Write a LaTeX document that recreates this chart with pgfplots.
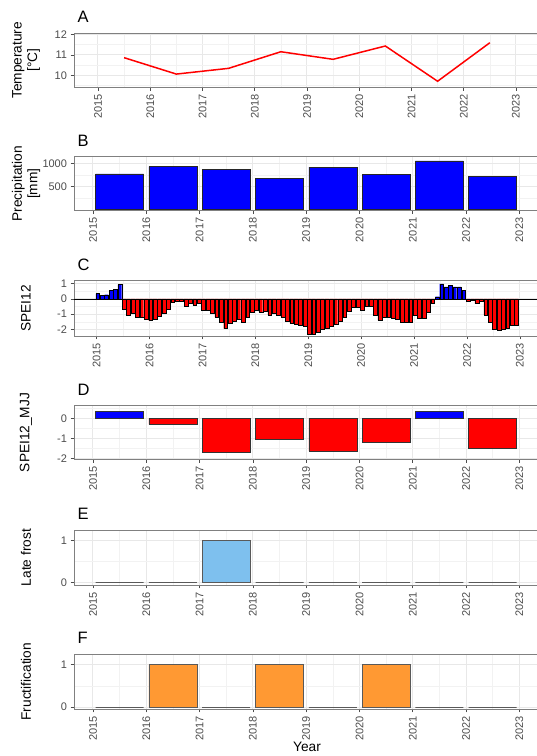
\documentclass[border=0pt]{standalone}
\usepackage{pgfplots}
\usepackage{pgfplotstable}
\pgfplotsset{compat=1.18}
\usepackage{fontspec}
\setmainfont{Liberation Sans}
\definecolor{tickgray}{gray}{0.30}
\definecolor{gridmaj}{gray}{0.91}
\definecolor{gridmin}{gray}{0.95}
\definecolor{frostblue}{HTML}{7EC0EE}
\definecolor{fruitorange}{HTML}{FF9933}
\pgfplotsset{
  mypanel/.style={
    scale only axis, width=466pt,
    axis line style={black!50, line width=0.7pt},
    tick align=outside, xtick pos=bottom, ytick pos=left,
    major tick length=3.5pt, minor tick length=0pt,
    tick style={black!70, line width=0.6pt},
    grid=both,
    major grid style={gridmaj, line width=1pt},
    minor grid style={gridmin, line width=0.5pt},
    xtick={2015,2016,...,2023},
    minor xtick={2014.5,2015.5,...,2023.5},
    /pgf/number format/assume math mode=true,
    /pgf/number format/1000 sep={},
    xticklabel style={rotate=90, anchor=east, font=\fontsize{11}{11}\selectfont, text=tickgray},
    yticklabel style={font=\fontsize{11}{11}\selectfont, text=tickgray},
    every axis title/.style={at={(0,1)}, anchor=base west, yshift=10.5pt, font=\fontsize{16.5}{16.5}\selectfont},
    every axis y label/.style={at={(axis description cs:0,0.5)}, xshift=-48pt, rotate=90, anchor=center, align=center, font=\fontsize{13.7}{15.5}\selectfont},
    anchor=south west,
  },
}
\begin{document}
\pgfplotstableread{
x y
2015.020 0.35
2015.103 0.22
2015.187 0.28
2015.270 0.55
2015.353 0.65
2015.437 0.95
2021.437 0.15
2021.520 1.00
2021.603 0.80
2021.687 0.90
2021.770 0.80
2021.853 0.80
2021.937 0.55
}\speipos
\pgfplotstableread{
x y
2015.520 -0.68
2015.603 -1.05
2015.687 -0.95
2015.770 -1.22
2015.853 -1.22
2015.937 -1.35
2016.020 -1.42
2016.103 -1.30
2016.187 -1.15
2016.270 -0.95
2016.353 -0.65
2016.437 -0.20
2016.520 -0.15
2016.603 -0.15
2016.687 -0.45
2016.770 -0.30
2016.853 -0.40
2016.937 -0.25
2017.020 -0.72
2017.103 -0.75
2017.187 -0.92
2017.270 -1.20
2017.353 -1.55
2017.437 -1.95
2017.520 -1.60
2017.603 -1.45
2017.687 -1.35
2017.770 -1.50
2017.853 -1.20
2017.937 -0.85
2018.020 -0.75
2018.103 -0.85
2018.187 -0.80
2018.270 -1.05
2018.353 -0.95
2018.437 -1.05
2018.520 -1.20
2018.603 -1.45
2018.687 -1.60
2018.770 -1.65
2018.853 -1.75
2018.937 -1.80
2019.020 -2.30
2019.103 -2.30
2019.187 -2.20
2019.270 -2.00
2019.353 -1.90
2019.437 -1.80
2019.520 -1.65
2019.603 -1.45
2019.687 -1.20
2019.770 -0.80
2019.853 -0.55
2019.937 -0.55
2020.020 -0.75
2020.103 -0.45
2020.187 -0.45
2020.270 -1.05
2020.353 -1.40
2020.437 -1.20
2020.520 -1.20
2020.603 -1.25
2020.687 -1.35
2020.770 -1.50
2020.853 -1.55
2020.937 -1.50
2021.020 -1.05
2021.103 -1.25
2021.187 -1.25
2021.270 -0.90
2021.353 -0.30
2022.020 -0.15
2022.103 -0.10
2022.187 -0.30
2022.270 -0.15
2022.353 -1.05
2022.437 -1.55
2022.520 -2.00
2022.603 -2.05
2022.687 -2.00
2022.770 -1.95
2022.853 -1.70
2022.937 -1.75
}\speineg
\begin{tikzpicture}
% A
\begin{axis}[mypanel, at={(74pt,668.7pt)}, height=54pt,
  xmin=2014.541, xmax=2023.46, ymin=9.415, ymax=12.05,
  ytick={10,11,12}, minor ytick={9.5,10.5,11.5},
  title={A}, ylabel={Temperature\\{[°C]}}]
\addplot[red, line width=1.5pt] coordinates {(2015.5,10.86) (2016.5,10.06) (2017.5,10.34) (2018.5,11.15) (2019.5,10.78) (2020.5,11.43) (2021.5,9.71) (2022.5,11.59)};
\end{axis}
% B
\begin{axis}[mypanel, at={(74pt,545.3pt)}, height=54pt,
  xmin=2014.644, xmax=2023.387, ymin=-21.7, ymax=1152,
  ytick={500,1000}, minor ytick={250,750},
  title={B}, ylabel={Precipitation\\{[mm]}}]
\addplot[ybar, bar width=0.9, bar shift=0pt, fill=blue, draw=black!85, line width=0.6pt] coordinates {(2015.5,776) (2016.5,935) (2017.5,870) (2018.5,674) (2019.5,928) (2020.5,770) (2021.5,1059) (2022.5,726)};
\end{axis}
% C
\begin{axis}[mypanel, at={(74pt,420pt)}, height=55.3pt,
  xmin=2014.571, xmax=2023.38, ymin=-2.434, ymax=1.204,
  ytick={-2,-1,0,1}, minor ytick={-1.5,-0.5,0.5},
  title={C}, ylabel={SPEI12}]
\addplot[ybar, bar width=0.072, bar shift=0pt, fill=blue, draw=black, line width=0.4pt] table[x=x,y=y] {\speipos};
\addplot[ybar, bar width=0.072, bar shift=0pt, fill=red, draw=black, line width=0.4pt] table[x=x,y=y] {\speineg};
\addplot[black, line width=0.6pt] coordinates {(2014.571,0) (2023.38,0)};
\end{axis}
% D
\begin{axis}[mypanel, at={(74pt,296.7pt)}, height=53.6pt,
  xmin=2014.644, xmax=2023.387, ymin=-2.05, ymax=0.63,
  ytick={-2,-1,0}, minor ytick={-1.5,-0.5,0.5},
  title={D}, ylabel={SPEI12\_MJJ}]
\addplot[ybar, bar width=0.9, bar shift=0pt, fill=blue, draw=black!80, line width=0.6pt] coordinates {(2015.5,0.35) (2021.5,0.35)};
\addplot[ybar, bar width=0.9, bar shift=0pt, fill=red, draw=black!80, line width=0.6pt] coordinates {(2016.5,-0.30) (2017.5,-1.68) (2018.5,-1.07) (2019.5,-1.63) (2020.5,-1.22) (2022.5,-1.52)};
\end{axis}
% E
\begin{axis}[mypanel, at={(74pt,171pt)}, height=54.7pt,
  xmin=2014.644, xmax=2023.387, ymin=-0.065, ymax=1.25,
  ytick={0,1}, minor ytick={0.5},
  title={E}, ylabel={Late frost}]
\addplot[ybar, bar width=0.9, bar shift=0pt, fill=frostblue, draw=black!65, line width=0.7pt] coordinates {(2015.5,0) (2016.5,0) (2017.5,1) (2018.5,0) (2019.5,0) (2020.5,0) (2021.5,0) (2022.5,0)};
\end{axis}
% F
\begin{axis}[mypanel, at={(74pt,47pt)}, height=54.7pt,
  xmin=2014.644, xmax=2023.387, ymin=-0.047, ymax=1.246,
  ytick={0,1}, minor ytick={0.5},
  title={F}, ylabel={Fructification}, xlabel={Year},
  every axis x label/.style={at={(axis description cs:0.5,0)}, anchor=center, yshift=-38pt, font=\fontsize{13.7}{13.7}\selectfont}]
\addplot[ybar, bar width=0.9, bar shift=0pt, fill=fruitorange, draw=black!65, line width=0.7pt] coordinates {(2015.5,0) (2016.5,1) (2017.5,0) (2018.5,1) (2019.5,0) (2020.5,1) (2021.5,0) (2022.5,0)};
\end{axis}
\pgfresetboundingbox
\path[use as bounding box] (0,0) rectangle (537pt,756pt);
\end{tikzpicture}
\end{document}
